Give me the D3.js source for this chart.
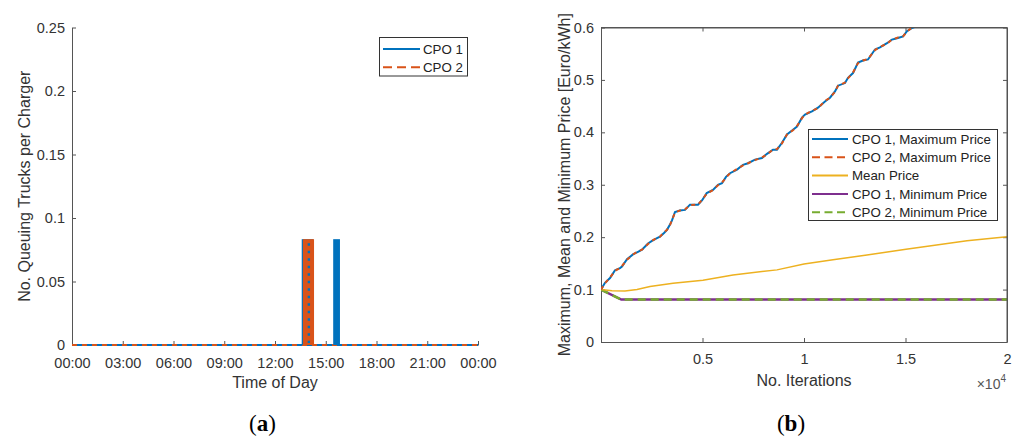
<!DOCTYPE html>
<html>
<head>
<meta charset="utf-8">
<script src="https://cdn.jsdelivr.net/npm/d3@7/dist/d3.min.js"></script>
<style>
  html, body { margin: 0; padding: 0; background: #fff; }
  svg { display: block; font-family: "Liberation Sans", Arial, sans-serif; }
</style>
</head>
<body>
<svg id="fig" width="1019" height="441"></svg>
<script>
// ---------- Panel (a): queuing trucks per charger over the day ----------
const hourTicks = [0, 3, 6, 9, 12, 15, 18, 21, 24];
const hourTickLabels = ["00:00", "03:00", "06:00", "09:00", "12:00", "15:00", "18:00", "21:00", "00:00"];
const queueTicks = [0, 0.05, 0.1, 0.15, 0.2, 0.25];
// queue episodes: [start hour, end hour, trucks per charger]
const cpo1Queue = [[13.58, 14.26, 1 / 12], [15.44, 15.84, 1 / 12]];
const cpo2Queue = [[13.58, 14.26, 1 / 12]];

// ---------- Panel (b): price evolution over iterations ----------
const iterTicks = [5000, 10000, 15000, 20000];
const iterTickLabels = ["0.5", "1", "1.5", "2"];
const priceTicks = [0, 0.1, 0.2, 0.3, 0.4, 0.5, 0.6];
const maxIter = [0, 197, 443, 690, 936, 1034, 1281, 1576, 1823, 2020, 2315, 2512, 2759, 2906, 3103, 3251,
  3399, 3497, 3645, 3891, 4138, 4384, 4778, 4975, 5207, 5517, 5763, 5960, 6158, 6355, 6700, 6995, 7242,
  7586, 7931, 8177, 8473, 8670, 8916, 9162, 9458, 9655, 9901, 10049, 10393, 10689, 11034, 11280, 11526,
  11675, 12019, 12167, 12414, 12660, 12906, 13152, 13497, 13743, 14088, 14334, 14630, 14877, 15074, 15320, 15714];
const maxPriceCpo1 = [0.100, 0.113, 0.122, 0.137, 0.141, 0.144, 0.158, 0.167, 0.172, 0.176, 0.188, 0.193,
  0.198, 0.201, 0.208, 0.214, 0.224, 0.232, 0.248, 0.251, 0.252, 0.262, 0.262, 0.270, 0.284, 0.290, 0.300,
  0.303, 0.315, 0.322, 0.329, 0.338, 0.341, 0.348, 0.351, 0.359, 0.367, 0.367, 0.380, 0.396, 0.405, 0.411,
  0.428, 0.434, 0.440, 0.447, 0.459, 0.466, 0.478, 0.489, 0.494, 0.504, 0.513, 0.533, 0.537, 0.539, 0.558,
  0.562, 0.570, 0.577, 0.580, 0.583, 0.593, 0.599, 0.605];
const maxPriceCpo2 = [0.100, 0.112, 0.123, 0.136, 0.141, 0.145, 0.157, 0.167, 0.173, 0.176, 0.187, 0.193,
  0.199, 0.201, 0.209, 0.214, 0.223, 0.233, 0.247, 0.251, 0.253, 0.261, 0.262, 0.271, 0.283, 0.290, 0.299,
  0.304, 0.314, 0.322, 0.330, 0.337, 0.341, 0.347, 0.352, 0.358, 0.367, 0.368, 0.379, 0.396, 0.404, 0.412,
  0.427, 0.434, 0.441, 0.446, 0.460, 0.466, 0.477, 0.489, 0.495, 0.503, 0.514, 0.532, 0.537, 0.540, 0.557,
  0.563, 0.569, 0.577, 0.581, 0.583, 0.592, 0.600, 0.605];
const meanIter = [0, 542, 1182, 1773, 2414, 3547, 5024, 6502, 8670, 10000, 11428, 13103, 15024, 16354, 18029, 20000];
const meanPrice = [0.100, 0.098, 0.0975, 0.100, 0.1057, 0.112, 0.118, 0.128, 0.1376, 0.149, 0.157, 0.166, 0.177, 0.184, 0.193, 0.201];
const minIter = [0, 1000, 20000];
const minPriceCpo1 = [0.100, 0.081, 0.081];
const minPriceCpo2 = [0.100, 0.081, 0.081];

const C = { blue: "#0072BD", orange: "#D95319", yellow: "#EDB120", purple: "#7E2F8E", green: "#77AC30" };
const axisColor = "#555";
const textColor = "#333";

const svg = d3.select("#fig");

// inward ticks and grey labels
function styleAxis(g) {
  g.select(".domain").attr("stroke", axisColor).attr("stroke-width", 1);
  g.selectAll(".tick line").attr("stroke", axisColor);
  g.selectAll(".tick text").attr("fill", textColor).style("font-size", "14.5px")
    .style("font-family", '"Liberation Sans", Arial, sans-serif');
}

function caption(xc, letter) {
  const cap = svg.append("text").attr("x", xc).attr("y", 431).attr("text-anchor", "middle")
    .style("font-family", '"Liberation Serif", "DejaVu Serif", serif').style("font-size", "23px").attr("fill", "#000");
  cap.append("tspan").text("(");
  cap.append("tspan").attr("font-weight", "bold").text(letter);
  cap.append("tspan").text(")");
}

// ===== Panel (a) =====
{
  const L = 72, R = 478, T = 27.5, B = 345;
  const x = d3.scaleLinear().domain([0, 24]).range([L, R]);
  const y = d3.scaleLinear().domain([0, 0.25]).range([B, T]);

  const gx = svg.append("g").attr("transform", `translate(0,${B})`)
    .call(d3.axisBottom(x).tickValues(hourTicks).tickFormat((d, i) => hourTickLabels[i])
      .tickSizeInner(-4).tickSizeOuter(0));
  styleAxis(gx);
  gx.selectAll(".tick text").attr("dy", 0).attr("y", 23);

  const gy = svg.append("g").attr("transform", `translate(${L},0)`)
    .call(d3.axisLeft(y).tickValues(queueTicks).tickFormat(d3.format("~g"))
      .tickSizeInner(-4).tickSizeOuter(0).tickPadding(7));
  styleAxis(gy);

  // baseline (zero queue) for both operators
  svg.append("line").attr("x1", x(0)).attr("x2", x(24)).attr("y1", y(0)).attr("y2", y(0))
    .attr("stroke", C.blue).attr("stroke-width", 2);
  svg.append("line").attr("x1", x(0)).attr("x2", x(24)).attr("y1", y(0)).attr("y2", y(0))
    .attr("stroke", C.orange).attr("stroke-width", 2).attr("stroke-dasharray", "5,5");

  // CPO 1 queue episodes
  svg.append("g").selectAll("rect").data(cpo1Queue).join("rect")
    .attr("x", d => x(d[0])).attr("width", d => x(d[1]) - x(d[0]))
    .attr("y", d => y(d[2])).attr("height", d => y(0) - y(d[2]))
    .attr("fill", C.blue);
  // CPO 2 queue episodes (dashed trace drawn densely over CPO 1)
  svg.append("g").selectAll("rect").data(cpo2Queue).join("rect")
    .attr("x", d => x(d[0]) + 1.2).attr("width", d => x(d[1]) - x(d[0]) - 0.4)
    .attr("y", d => y(d[2])).attr("height", d => y(0) - y(d[2]))
    .attr("fill", C.orange);
  // gaps of the dashed CPO 2 trace letting CPO 1 show through
  svg.append("g").selectAll("line").data(cpo2Queue).join("line")
    .attr("x1", d => x(d[0]) + 0.62 * (x(d[1]) - x(d[0])))
    .attr("x2", d => x(d[0]) + 0.62 * (x(d[1]) - x(d[0])))
    .attr("y1", d => y(d[2]) + 4).attr("y2", d => y(0) - 2)
    .attr("stroke", C.blue).attr("stroke-width", 2.4).attr("stroke-dasharray", "2.5,5");

  // legend
  const lg = svg.append("g");
  lg.append("rect").attr("x", 379.5).attr("y", 37.5).attr("width", 88).attr("height", 38.5)
    .attr("fill", "#fff").attr("stroke", "#333").attr("stroke-width", 1);
  const items = [{ name: "CPO 1", color: C.blue, dash: null }, { name: "CPO 2", color: C.orange, dash: "9,5" }];
  items.forEach((it, i) => {
    const yy = 49 + i * 18.3;
    lg.append("line").attr("x1", 383).attr("x2", 420).attr("y1", yy).attr("y2", yy)
      .attr("stroke", it.color).attr("stroke-width", 2).attr("stroke-dasharray", it.dash);
    lg.append("text").attr("x", 423).attr("y", yy + 4.7).text(it.name)
      .attr("fill", "#222").style("font-size", "13.3px");
  });

  svg.append("text").attr("x", (L + R) / 2).attr("y", 388).attr("text-anchor", "middle")
    .attr("fill", textColor).style("font-size", "16px").text("Time of Day");
  svg.append("text").attr("transform", `translate(30,${(T + B) / 2}) rotate(-90)`).attr("text-anchor", "middle")
    .attr("fill", textColor).style("font-size", "16px").text("No. Queuing Trucks per Charger");

  caption(262.5, "a");
}

// ===== Panel (b) =====
{
  const L = 601, R = 1007, T = 27.5, B = 342;
  const x = d3.scaleLinear().domain([0, 20000]).range([L, R]);
  const y = d3.scaleLinear().domain([0, 0.6]).range([B, T]);

  svg.append("defs").append("clipPath").attr("id", "clipB")
    .append("rect").attr("x", L).attr("y", T).attr("width", R - L).attr("height", B - T);

  const axB = d3.axisBottom(x).tickValues(iterTicks).tickFormat((d, i) => iterTickLabels[i]).tickSizeInner(-4).tickSizeOuter(0);
  const gxb = svg.append("g").attr("transform", `translate(0,${B})`).call(axB);
  styleAxis(gxb);
  gxb.selectAll(".tick text").attr("dy", 0).attr("y", 22);
  const gxt = svg.append("g").attr("transform", `translate(0,${T})`)
    .call(d3.axisTop(x).tickValues(iterTicks).tickFormat("").tickSizeInner(-4).tickSizeOuter(0));
  styleAxis(gxt);
  const gyl = svg.append("g").attr("transform", `translate(${L},0)`)
    .call(d3.axisLeft(y).tickValues(priceTicks).tickFormat(d3.format("~g")).tickSizeInner(-4).tickSizeOuter(0).tickPadding(7));
  styleAxis(gyl);
  const gyr = svg.append("g").attr("transform", `translate(${R},0)`)
    .call(d3.axisRight(y).tickValues(priceTicks).tickFormat("").tickSizeInner(-4).tickSizeOuter(0));
  styleAxis(gyr);

  const line = d3.line().x(d => x(d[0])).y(d => y(d[1]));
  const zip = (a, b) => a.map((v, i) => [v, b[i]]);
  const plot = svg.append("g").attr("clip-path", "url(#clipB)");
  plot.append("path").datum(zip(minIter, minPriceCpo1)).attr("d", line)
    .attr("fill", "none").attr("stroke", C.purple).attr("stroke-width", 2.4);
  plot.append("path").datum(zip(minIter, minPriceCpo2)).attr("d", line)
    .attr("fill", "none").attr("stroke", C.green).attr("stroke-width", 2.4).attr("stroke-dasharray", "8,5");
  plot.append("path").datum(zip(meanIter, meanPrice)).attr("d", line)
    .attr("fill", "none").attr("stroke", C.yellow).attr("stroke-width", 1.5);
  plot.append("path").datum(zip(maxIter, maxPriceCpo1)).attr("d", line)
    .attr("fill", "none").attr("stroke", C.blue).attr("stroke-width", 2);
  plot.append("path").datum(zip(maxIter, maxPriceCpo2)).attr("d", line)
    .attr("fill", "none").attr("stroke", C.orange).attr("stroke-width", 2).attr("stroke-dasharray", "4,4");

  // box on top and right
  svg.append("line").attr("x1", L).attr("x2", R).attr("y1", T).attr("y2", T).attr("stroke", axisColor);
  svg.append("line").attr("x1", R).attr("x2", R).attr("y1", T).attr("y2", B).attr("stroke", axisColor);

  // legend
  const lg = svg.append("g");
  lg.append("rect").attr("x", 808.5).attr("y", 129.5).attr("width", 189).attr("height", 91)
    .attr("fill", "#fff").attr("stroke", "#333").attr("stroke-width", 1);
  const items = [
    { name: "CPO 1, Maximum Price", color: C.blue, dash: null },
    { name: "CPO 2, Maximum Price", color: C.orange, dash: "8,4.5" },
    { name: "Mean Price", color: C.yellow, dash: null },
    { name: "CPO 1, Minimum Price", color: C.purple, dash: null },
    { name: "CPO 2, Minimum Price", color: C.green, dash: "8,4.5" }
  ];
  items.forEach((it, i) => {
    const yy = 139 + i * 18.3;
    lg.append("line").attr("x1", 812).attr("x2", 848).attr("y1", yy).attr("y2", yy)
      .attr("stroke", it.color).attr("stroke-width", 2).attr("stroke-dasharray", it.dash);
    lg.append("text").attr("x", 852).attr("y", yy + 4.7).text(it.name)
      .attr("fill", "#222").style("font-size", "13.3px");
  });

  svg.append("text").attr("x", (L + R) / 2).attr("y", 385.5).attr("text-anchor", "middle")
    .attr("fill", textColor).style("font-size", "16px").text("No. Iterations");
  const ex = svg.append("text").attr("x", 1006).attr("y", 388.5).attr("text-anchor", "end")
    .attr("fill", "#555").style("font-size", "14px");
  ex.append("tspan").text("×10");
  ex.append("tspan").attr("dy", -7).style("font-size", "10px").text("4");

  svg.append("text").attr("transform", `translate(570,${(T + B) / 2}) rotate(-90)`).attr("text-anchor", "middle")
    .attr("fill", textColor).style("font-size", "16px").text("Maximum, Mean and Minimum Price [Euro/kWh]");

  caption(791, "b");
}
</script>
</body>
</html>
